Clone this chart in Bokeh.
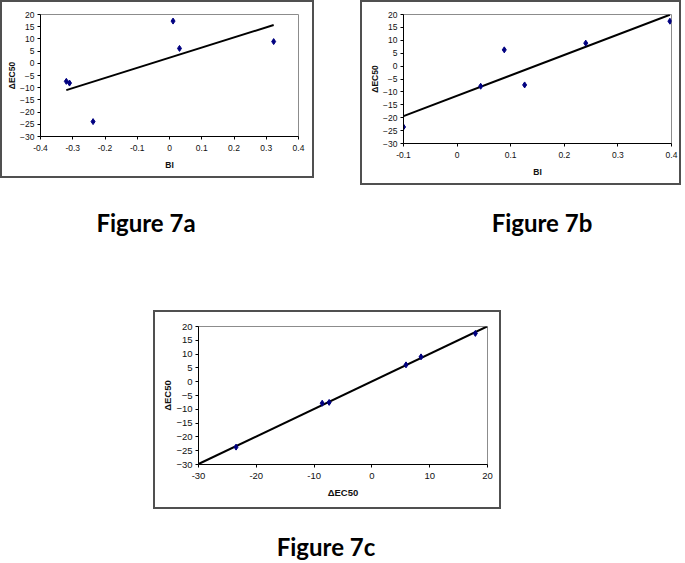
import numpy as np
from bokeh.plotting import figure
from bokeh.layouts import column, row
from bokeh.models import Range1d, FixedTicker, NumeralTickFormatter, Div, Spacer
from bokeh.embed import file_html
from bokeh.resources import INLINE

# ---------------- data ----------------
fig7a_bi = [-0.320, -0.310, -0.237, 0.011, 0.031, 0.323]
fig7a_dec50 = [-7.4, -8.1, -23.9, 17.3, 6.1, 8.9]

fig7b_bi = [-0.100, 0.044, 0.088, 0.126, 0.240, 0.397]
fig7b_dec50 = [-23.6, -7.8, 6.3, -7.3, 8.9, 17.4]

fig7c_pred = [-23.5, -8.6, -7.4, 5.9, 8.5, 17.9]
fig7c_dec50 = [-23.7, -7.8, -7.5, 6.1, 9.0, 17.5]

x_ticks_a = [-0.4, -0.3, -0.2, -0.1, 0, 0.1, 0.2, 0.3, 0.4]
x_ticks_b = [-0.1, 0, 0.1, 0.2, 0.3, 0.4]
x_ticks_c = [-30, -20, -10, 0, 10, 20]
y_ticks = [-30, -25, -20, -15, -10, -5, 0, 5, 10, 15, 20]

x_title_ab = "BI"
y_title = "\u0394EC50"
x_title_c = "\u0394EC50"
captions = ["Figure 7a", "Figure 7b", "Figure 7c"]

FONT = "Liberation Sans"
NAVY = "#000080"


def panel(xs, ys, xticks, xlabel, w, h, left, right, top, bottom,
          tick_size, label_size, y_lab_standoff, x_lab_standoff, x_tick_standoff,
          full_line=False):
    p = figure(width=w, height=h,
               x_range=Range1d(xticks[0], xticks[-1]),
               y_range=Range1d(y_ticks[0], y_ticks[-1]),
               output_backend="svg", toolbar_location=None,
               min_border_left=left, min_border_right=right,
               min_border_top=top, min_border_bottom=bottom,
               styles={"outline": "2px solid #505050", "outline-offset": "-2px"})
    p.background_fill_color = "white"
    p.border_fill_color = "white"
    p.border_fill_alpha = 0
    p.outline_line_color = "#8c8c8c"
    p.outline_line_width = 1
    p.xgrid.visible = False
    p.ygrid.visible = False

    p.xaxis.ticker = FixedTicker(ticks=xticks)
    p.yaxis.ticker = FixedTicker(ticks=y_ticks)
    p.xaxis.formatter = NumeralTickFormatter(format="0.[0]")
    p.xaxis.axis_label = xlabel
    p.yaxis.axis_label = y_title
    for ax in (p.xaxis[0], p.yaxis[0]):
        ax.axis_line_color = "black"
        ax.axis_line_width = 1
        ax.major_tick_line_color = "black"
        ax.major_tick_out = 3
        ax.major_tick_in = 0
        ax.minor_tick_line_color = None
        ax.major_label_text_font = FONT
        ax.major_label_text_font_size = f"{tick_size}px"
        ax.major_label_text_color = "#111111"
        ax.axis_label_text_font = FONT
        ax.axis_label_text_font_size = f"{label_size}px"
        ax.axis_label_text_font_style = "bold"
        ax.axis_label_text_color = "#111111"
    p.yaxis.major_label_standoff = 3
    p.xaxis.major_label_standoff = x_tick_standoff
    p.yaxis.axis_label_standoff = y_lab_standoff
    p.xaxis.axis_label_standoff = x_lab_standoff

    slope, intercept = np.polyfit(xs, ys, 1)
    if full_line:
        lx = [xticks[0], xticks[-1]]
    else:
        lx = [min(xs), max(xs)]
    ly = [slope * v + intercept for v in lx]
    p.line(lx, ly, line_color="black", line_width=2)
    p.scatter(xs, ys, marker="diamond", size=6, fill_color=NAVY, line_color=NAVY)
    return p


pa = panel(fig7a_bi, fig7a_dec50, x_ticks_a, x_title_ab, 314, 178,
           40, 16, 13, 41, 8.5, 8.5, 0, 6, 5)
pb = panel(fig7b_bi, fig7b_dec50, x_ticks_b, x_title_ab, 321, 185,
           43, 10, 14, 42, 8.5, 8.5, 0, 6, 5)
pc = panel(fig7c_pred, fig7c_dec50, x_ticks_c, x_title_c, 348, 199,
           45, 14, 16, 45, 9.5, 9.5, 0, 5, 5, full_line=True)


def caption_div(items, width, height):
    inner = "".join(
        f'<div style="position:absolute;left:{cx - 100}px;top:{top}px;width:200px;'
        f'text-align:center;font-family:Lato;font-weight:bold;font-size:24px;'
        f'line-height:24px;color:#000;white-space:nowrap;">{text}</div>'
        for text, cx, top in items)
    html = f'<div style="position:relative;width:{width}px;height:{height}px;">{inner}</div>'
    return Div(text=html, width=width, height=height, margin=0)


cap1 = caption_div([(captions[0], 146, 26), (captions[1], 542, 26)], 685, 125)
cap2 = caption_div([(captions[2], 326, 26)], 685, 54)

layout = column(
    row(pa, Spacer(width=46, height=10, margin=0), pb, margin=0),
    cap1,
    row(Spacer(width=153, height=10, margin=0), pc, margin=0),
    cap2,
    margin=0,
)

open("out.html", "w").write(file_html(layout, INLINE))
